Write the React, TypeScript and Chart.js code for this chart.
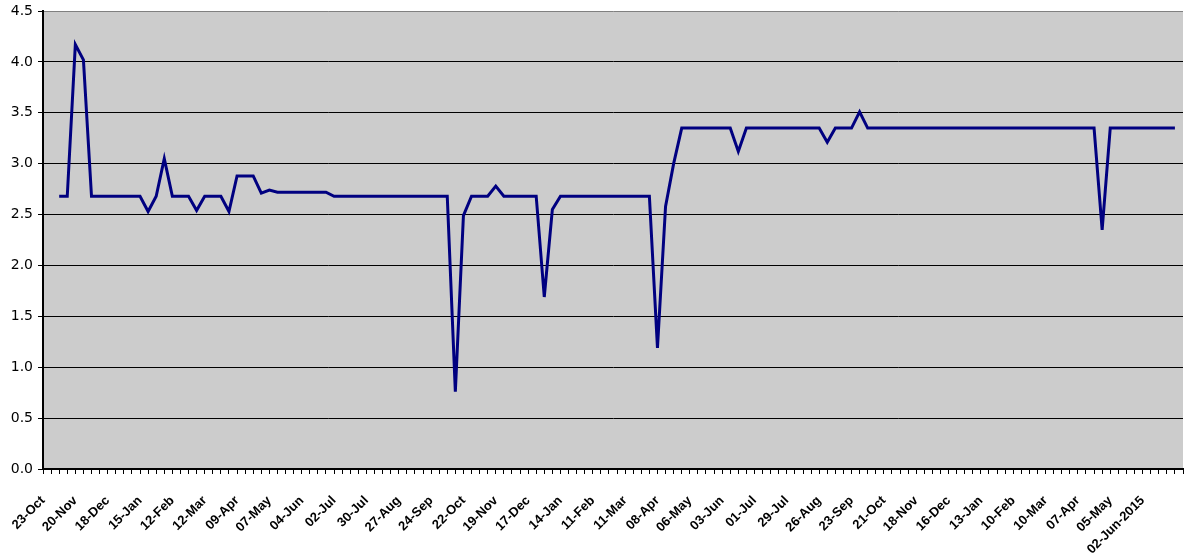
import React, { useEffect, useRef } from 'react';
import { Chart, registerables } from 'chart.js';

Chart.register(...registerables);

// Every fourth weekly category carries a date label.
const TICK_LABELS = [
  '23-Oct', '20-Nov', '18-Dec', '15-Jan', '12-Feb', '12-Mar', '09-Apr', '07-May', '04-Jun',
  '02-Jul', '30-Jul', '27-Aug', '24-Sep', '22-Oct', '19-Nov', '17-Dec', '14-Jan', '11-Feb',
  '11-Mar', '08-Apr', '06-May', '03-Jun', '01-Jul', '29-Jul', '26-Aug', '23-Sep', '21-Oct',
  '18-Nov', '16-Dec', '13-Jan', '10-Feb', '10-Mar', '07-Apr', '05-May', '02-Jun-2015',
];
const WEEKS_PER_LABEL = 4;
const LEADING_EMPTY_WEEKS = 2;
const TRAILING_EMPTY_WEEKS = 1;

// Weekly values, first recorded week onwards.
const WEEKLY_VALUES = [
  2.68, 2.68, 4.17, 4.02, 2.68, 2.68, 2.68, 2.68, 2.68, 2.68, 2.68,
  2.53, 2.68, 3.05, 2.68, 2.68, 2.68, 2.54, 2.68, 2.68, 2.68, 2.53,
  2.88, 2.88, 2.88, 2.71, 2.74,
  2.72, 2.72, 2.72, 2.72, 2.72, 2.72, 2.72,
  2.68, 2.68, 2.68, 2.68, 2.68, 2.68, 2.68, 2.68, 2.68, 2.68, 2.68, 2.68, 2.68, 2.68, 2.68,
  0.76, 2.49, 2.68, 2.68, 2.68, 2.78, 2.68, 2.68, 2.68, 2.68, 2.68,
  1.69, 2.55,
  2.68, 2.68, 2.68, 2.68, 2.68, 2.68, 2.68, 2.68, 2.68, 2.68, 2.68, 2.68,
  1.19, 2.58, 3.00,
  3.35, 3.35, 3.35, 3.35, 3.35, 3.35, 3.35,
  3.12,
  3.35, 3.35, 3.35, 3.35, 3.35, 3.35, 3.35, 3.35, 3.35, 3.35,
  3.21,
  3.35, 3.35, 3.35,
  3.51,
  3.35, 3.35, 3.35, 3.35, 3.35, 3.35, 3.35, 3.35, 3.35, 3.35,
  3.35, 3.35, 3.35, 3.35, 3.35, 3.35, 3.35, 3.35, 3.35, 3.35,
  3.35, 3.35, 3.35, 3.35, 3.35, 3.35, 3.35, 3.35, 3.35,
  2.35,
  3.35, 3.35, 3.35, 3.35, 3.35, 3.35, 3.35, 3.35, 3.35,
];

const Y_MIN = 0;
const Y_MAX = 4.5;
const Y_STEP = 0.5;

const FONT_FAMILY = "'Liberation Sans', Arial, sans-serif";

const plotBackground = {
  id: 'plotBackground',
  beforeDraw(chart: any) {
    const { ctx, chartArea: a } = chart;
    ctx.save();
    ctx.fillStyle = '#ffffff';
    ctx.fillRect(0, 0, chart.width, chart.height);
    ctx.fillStyle = '#CCCCCC';
    ctx.fillRect(a.left, a.top, a.right - a.left, a.bottom - a.top);
    ctx.restore();
  },
};

export default function App() {
  const canvasRef = useRef<HTMLCanvasElement | null>(null);

  useEffect(() => {
    const canvas = canvasRef.current;
    if (!canvas) return;

    const weekCount = LEADING_EMPTY_WEEKS + WEEKLY_VALUES.length + TRAILING_EMPTY_WEEKS;
    const categories = Array.from({ length: weekCount }, (_, i) =>
      i % WEEKS_PER_LABEL === 0 ? TICK_LABELS[i / WEEKS_PER_LABEL] ?? '' : ''
    );
    const series = [
      ...Array(LEADING_EMPTY_WEEKS).fill(null),
      ...WEEKLY_VALUES,
      ...Array(TRAILING_EMPTY_WEEKS).fill(null),
    ];

    const chart = new Chart(canvas, {
      type: 'line',
      data: {
        labels: categories,
        datasets: [
          {
            data: series,
            borderColor: '#000080',
            borderWidth: 3,
            pointRadius: 0,
            tension: 0,
            fill: false,
            spanGaps: false,
          },
        ],
      },
      options: {
        responsive: false,
        animation: false,
        devicePixelRatio: 1,
        layout: { padding: { top: 11, right: 2, left: 0, bottom: 0 } },
        plugins: { legend: { display: false }, tooltip: { enabled: false } },
        scales: {
          x: {
            type: 'category',
            offset: false,
            grid: {
              display: true,
              drawOnChartArea: false,
              drawTicks: true,
              tickLength: 5,
              color: '#000000',
              lineWidth: 1,
              offset: false,
            },
            border: { display: true, color: '#000000', width: 2 },
            ticks: {
              autoSkip: false,
              minRotation: 45,
              maxRotation: 45,
              color: '#000000',
              padding: 19,
              font: { family: FONT_FAMILY, size: 13, weight: 'bold' },
            },
            afterFit: (scale: any) => {
              scale.height = 85;
              scale.paddingLeft = 0;
              scale.paddingRight = 0;
            },
          },
          y: {
            min: Y_MIN,
            max: Y_MAX,
            ticks: {
              stepSize: Y_STEP,
              color: '#000000',
              padding: 5,
              font: { family: "'DejaVu Sans', sans-serif", size: 14 },
              callback: (v: any) => Number(v).toFixed(1),
            },
            grid: {
              color: (ctx: any) => (ctx.tick && ctx.tick.value === Y_MAX ? '#808080' : '#000000'),
              tickColor: '#000000',
              lineWidth: 1,
              tickLength: 5,
              drawTicks: true,
            },
            border: { display: true, color: '#000000', width: 2 },
            afterFit: (scale: any) => {
              scale.width = 43;
              scale.paddingTop = 0;
              scale.paddingBottom = 0;
            },
          },
        },
      },
      plugins: [plotBackground],
    });

    return () => chart.destroy();
  }, []);

  return (
    <div style={{ position: 'absolute', left: 0, top: 0, width: 1185, height: 554, background: '#ffffff' }}>
      <canvas ref={canvasRef} width={1185} height={554} />
    </div>
  );
}
